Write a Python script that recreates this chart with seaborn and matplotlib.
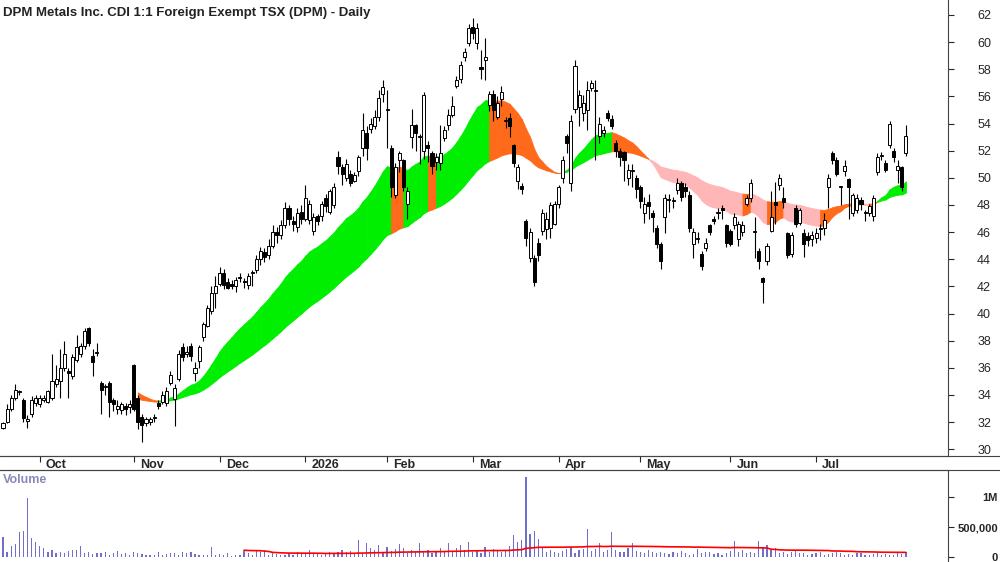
import numpy as np
import pandas as pd
import matplotlib
matplotlib.use("Agg")
import matplotlib.pyplot as plt
import seaborn as sns

sns.set_style("white")
plt.rcParams["font.family"] = ["Liberation Sans", "DejaVu Sans"]

TITLE = "DPM Metals Inc. CDI 1:1 Foreign Exempt TSX (DPM) - Daily"

opens = [
    31.6, 32.0, 33.0, 33.8, 34.2, 33.6, 32.1, 32.6, 33.4, 33.3,
    33.6, 33.5, 33.8, 34.8, 35.0, 36.0, 35.8, 35.4, 36.6, 37.0,
    37.6, 38.9, 36.9, 37.1, 34.9, 34.6, 34.9, 33.6, 33.0, 32.9,
    33.2, 33.1, 36.2, 33.8, 32.4, 31.9, 32.0, 32.3, 33.4, 33.5,
    33.4, 34.9, 33.7, 35.2, 37.5, 37.0, 37.6, 35.6, 36.5, 38.3,
    39.1, 40.2, 41.5, 42.2, 43.0, 42.3, 42.2, 42.0, 42.6, 42.4,
    42.1, 43.0, 43.2, 44.0, 44.5, 44.3, 45.0, 46.0, 45.8, 46.5,
    47.8, 46.8, 46.4, 47.5, 47.0, 46.9, 46.1, 47.2, 47.2, 48.5,
    47.5, 48.0, 51.5, 50.8, 50.0, 50.3, 49.8, 50.5, 52.2, 53.3,
    53.6, 53.8, 54.5, 56.2, 55.0, 52.2, 48.7, 51.3, 51.3, 48.1,
    53.0, 53.9, 53.0, 52.0, 52.4, 51.8, 51.2, 51.1, 52.9, 53.9,
    54.6, 56.8, 57.3, 58.9, 59.9, 61.1, 59.9, 58.2, 58.7, 55.4,
    56.2, 54.5, 55.8, 54.2, 54.4, 52.4, 49.8, 49.4, 46.8, 44.1,
    44.1, 45.2, 46.1, 46.2, 46.3, 46.6, 48.1, 50.0, 53.1, 49.6,
    55.1, 55.2, 54.8, 55.0, 56.6, 56.4, 53.1, 53.3, 54.8, 54.3,
    52.6, 52.0, 51.9, 50.0, 50.5, 50.0, 49.3, 47.4, 48.2, 47.4,
    46.3, 45.1, 47.1, 48.4, 48.3, 49.1, 49.6, 49.3, 48.7, 45.1,
    45.5, 44.4, 44.8, 46.5, 47.0, 47.4, 47.8, 46.5, 46.1, 46.5,
    45.5, 46.0, 48.1, 48.5, 46.0, 44.6, 42.6, 43.9, 46.1, 48.2,
    49.5, 48.5, 45.9, 44.4, 47.8, 46.7, 45.9, 45.7, 45.5, 45.6,
    46.3, 46.3, 49.3, 51.8, 51.3, 49.3, 50.5, 49.9, 47.4, 47.6,
    48.4, 47.4, 47.4, 47.2, 50.4, 51.6, 51.1, 52.4, 52.0, 50.6,
    50.8, 51.8,
]
closes = [
    31.9, 33.0, 33.8, 34.4, 34.3, 32.3, 32.2, 33.6, 33.8, 33.8,
    33.8, 34.3, 35.0, 35.2, 36.0, 37.0, 35.6, 36.8, 37.5, 37.6,
    38.7, 37.8, 36.4, 37.1, 34.4, 34.6, 33.5, 33.3, 33.2, 33.3,
    33.0, 33.3, 33.0, 32.0, 31.8, 32.2, 32.2, 32.4, 33.2, 34.0,
    34.3, 35.5, 34.5, 37.0, 36.8, 37.2, 36.9, 36.0, 37.5, 39.2,
    40.4, 41.5, 42.0, 43.0, 42.1, 41.9, 42.0, 42.5, 42.7, 42.3,
    42.8, 43.0, 44.0, 44.6, 44.2, 45.0, 46.0, 45.8, 46.5, 47.8,
    47.0, 46.6, 47.4, 47.0, 48.5, 48.1, 47.1, 46.8, 48.1, 47.9,
    49.0, 49.3, 50.9, 50.3, 51.0, 49.6, 50.2, 51.5, 53.5, 52.2,
    54.0, 54.5, 55.9, 56.7, 55.0, 49.3, 50.8, 51.8, 49.3, 49.0,
    53.9, 53.3, 53.1, 56.1, 52.2, 50.9, 51.5, 51.8, 53.5, 54.6,
    55.3, 57.2, 58.3, 59.3, 61.0, 60.7, 61.0, 58.0, 58.9, 56.2,
    55.0, 55.5, 56.3, 54.2, 53.8, 51.1, 50.8, 49.2, 45.6, 46.0,
    42.3, 44.3, 47.4, 47.0, 48.0, 48.1, 49.3, 51.3, 52.6, 54.2,
    58.2, 56.1, 55.5, 56.5, 57.0, 56.5, 54.0, 53.5, 54.4, 53.8,
    52.0, 51.5, 51.3, 50.6, 50.6, 49.2, 48.3, 48.1, 47.9, 47.1,
    45.1, 43.9, 48.5, 48.4, 48.3, 49.6, 48.6, 49.0, 46.3, 46.0,
    45.6, 43.5, 45.2, 46.0, 46.8, 47.4, 47.6, 45.2, 45.1, 47.1,
    46.6, 46.5, 48.5, 49.6, 46.0, 43.9, 42.3, 45.0, 47.1, 48.0,
    50.0, 48.2, 44.3, 45.8, 46.6, 47.6, 45.1, 45.4, 45.8, 45.9,
    46.2, 46.9, 50.0, 51.3, 50.3, 49.3, 50.9, 49.3, 48.7, 48.5,
    48.1, 47.4, 47.9, 48.5, 51.5, 51.6, 50.6, 54.0, 51.5, 50.9,
    49.3, 53.1,
]
highs = [
    32.0, 33.3, 34.0, 34.8, 34.4, 33.8, 32.5, 33.9, 34.0, 34.0,
    34.0, 34.4, 37.0, 36.2, 37.4, 38.0, 36.0, 37.0, 38.4, 37.8,
    38.9, 39.0, 37.4, 37.8, 35.0, 34.8, 35.0, 33.8, 33.6, 33.5,
    33.4, 33.6, 36.3, 34.0, 32.6, 32.4, 32.4, 32.6, 33.6, 34.3,
    34.6, 35.8, 34.8, 37.3, 37.8, 37.6, 37.8, 36.4, 37.7, 39.4,
    40.6, 42.0, 42.8, 43.4, 43.3, 42.6, 42.5, 42.7, 43.0, 42.6,
    43.0, 43.2, 44.3, 44.9, 44.8, 45.5, 46.5, 46.4, 46.9, 48.2,
    48.0, 47.2, 47.8, 48.0, 49.5, 48.4, 47.4, 47.3, 48.3, 48.8,
    49.2, 49.6, 52.0, 51.0, 51.4, 50.6, 50.4, 51.7, 54.8, 53.8,
    54.4, 55.0, 56.5, 57.2, 56.5, 52.4, 51.1, 52.0, 51.4, 49.3,
    55.1, 54.0, 53.2, 56.3, 52.7, 52.0, 51.8, 53.9, 53.8, 55.1,
    56.0, 57.5, 58.6, 59.6, 61.3, 61.8, 61.4, 59.4, 60.3, 56.4,
    56.5, 56.0, 56.8, 54.5, 54.8, 52.5, 51.0, 49.6, 47.0, 46.3,
    44.3, 45.6, 47.7, 47.5, 48.2, 48.3, 49.5, 51.6, 53.2, 54.6,
    58.7, 56.5, 56.1, 57.1, 57.2, 57.2, 54.5, 53.8, 55.0, 54.6,
    52.8, 52.2, 52.0, 51.0, 51.0, 50.2, 49.5, 48.6, 48.8, 47.6,
    46.5, 45.3, 48.8, 48.8, 48.6, 50.0, 49.8, 49.6, 49.0, 46.3,
    46.0, 44.6, 45.6, 46.6, 47.2, 47.8, 48.0, 46.6, 46.2, 47.4,
    46.8, 46.8, 48.7, 49.9, 47.1, 44.8, 42.7, 45.2, 49.0, 49.7,
    50.3, 49.3, 46.0, 46.0, 48.0, 47.8, 46.2, 46.0, 46.1, 46.3,
    46.6, 47.4, 50.3, 52.0, 51.5, 49.4, 51.3, 50.0, 48.9, 48.8,
    48.6, 47.6, 48.1, 48.7, 51.8, 51.9, 51.3, 54.2, 52.2, 51.3,
    50.9, 53.9,
]
lows = [
    31.5, 31.9, 32.8, 33.6, 34.0, 32.0, 31.6, 32.4, 33.2, 33.1,
    33.5, 33.4, 33.6, 34.6, 33.8, 35.8, 33.8, 35.2, 36.4, 36.8,
    37.4, 37.6, 35.4, 36.9, 32.6, 34.0, 32.4, 32.8, 32.6, 32.6,
    32.5, 32.7, 32.8, 31.5, 30.5, 31.7, 31.8, 32.0, 33.0, 33.3,
    33.2, 34.7, 31.7, 35.0, 36.5, 36.8, 36.5, 35.0, 36.0, 38.0,
    39.0, 40.0, 40.4, 42.0, 41.8, 41.8, 41.8, 41.6, 42.3, 41.9,
    41.8, 42.0, 43.0, 43.6, 43.8, 44.0, 44.8, 45.2, 45.5, 46.3,
    46.5, 46.1, 46.0, 46.6, 46.8, 46.6, 45.8, 46.5, 46.8, 47.5,
    47.3, 47.8, 50.3, 49.5, 49.8, 49.4, 49.7, 50.1, 51.6, 51.3,
    53.3, 53.6, 54.2, 55.6, 52.2, 48.6, 48.5, 50.4, 49.0, 47.0,
    52.2, 52.0, 51.0, 51.4, 51.2, 50.3, 50.6, 50.6, 52.7, 53.5,
    54.5, 56.6, 57.0, 58.6, 59.7, 60.2, 59.5, 57.3, 57.2, 54.9,
    54.2, 54.3, 55.3, 53.7, 53.0, 50.8, 49.2, 48.8, 45.0, 43.8,
    42.0, 43.9, 45.8, 45.5, 45.6, 46.5, 47.8, 49.6, 51.8, 49.0,
    54.8, 53.8, 54.2, 53.5, 56.4, 51.3, 52.6, 53.0, 54.2, 53.6,
    51.5, 50.9, 49.8, 49.5, 49.3, 48.5, 47.8, 46.7, 47.0, 46.0,
    44.8, 43.3, 45.9, 47.5, 47.8, 48.8, 48.3, 48.6, 46.0, 44.1,
    45.2, 43.2, 44.6, 45.8, 46.6, 47.0, 47.0, 44.9, 45.0, 46.2,
    45.0, 45.7, 47.9, 48.2, 44.1, 43.3, 40.8, 43.6, 46.0, 46.6,
    49.1, 47.8, 44.1, 44.2, 46.4, 46.5, 44.2, 45.0, 45.0, 45.2,
    45.4, 45.8, 47.8, 51.0, 50.1, 48.0, 50.1, 47.0, 47.2, 47.4,
    47.6, 46.8, 47.2, 46.8, 50.2, 51.3, 50.4, 52.2, 51.2, 49.6,
    49.0, 51.6,
]
# volume in thousands of shares
volume_k = [
    330, 90, 180, 220, 420, 430, 980, 310, 250, 190,
    150, 90, 110, 60, 80, 70, 100, 110, 120, 190, 60, 90, 50, 70, 60, 80, 40, 60, 100, 50,
    70, 40, 90, 60, 50, 30, 40, 30, 80, 40, 50, 70, 60, 30, 80, 60, 90, 50, 30, 40,
    30, 170, 40, 50, 30, 60, 20, 30, 40, 100, 60, 40, 120, 80, 110, 30, 60, 50, 40, 30, 60, 40, 90, 70, 50,
    110, 60, 70, 40, 50, 80, 60, 90, 120, 80, 100, 70, 280, 60, 230, 150, 120, 200, 90, 160, 100, 130, 220, 150, 60,
    110, 90, 240, 80, 120, 60, 100, 150, 80, 240, 90, 150, 200, 110, 250, 90, 120, 60, 160, 90,
    140, 100, 80, 120, 190, 370, 250, 290, 1330, 380, 440, 300,
    150, 90, 120, 80, 60, 100, 140, 170, 60, 120, 140, 470, 100, 130, 240, 80, 120, 420, 110, 90,
    80, 150, 230, 100, 90, 70, 120, 80, 60,
    90, 60, 50, 80, 70, 100, 60, 40, 50, 130, 60, 80, 90, 50, 70, 40, 60, 100, 270, 80,
    120, 60, 90, 70, 270, 160, 200, 120, 150, 60, 90, 50, 80, 110, 60, 70, 40, 50, 60, 80,
    40, 50, 70, 90, 60, 30, 50, 40, 70, 60, 40, 30, 50, 60, 40, 50, 30, 40, 60, 50, 80,
]
month_labels = ["Oct", "Nov", "Dec", "2026", "Feb", "Mar", "Apr", "May", "Jun", "Jul"]
month_start = [9, 32, 53, 74, 94, 115, 136, 156, 178, 199]
price_ticks = list(range(30, 63, 2))

df = pd.DataFrame({"open": opens, "high": highs, "low": lows, "close": closes,
                   "volume": np.array(volume_k) * 1000.0})
df["idx"] = np.arange(len(df))
df["fast"] = df["close"].ewm(span=24, adjust=False).mean()
df["slow"] = df["close"].ewm(span=60, adjust=False).mean()
df["vol_avg"] = df["volume"].rolling(60).mean()

fig = plt.figure(figsize=(10, 5.62), dpi=100)
ax = fig.add_axes([0, 1 - 456 / 562, 0.948, 456 / 562])
axv = fig.add_axes([0, 0, 0.948, 92 / 562])

x0, x1 = -0.73, 231.3

# moving average ribbon: colour by direction of the fast average and its side of the slow one
BAND_START = 33
fast = df["fast"].to_numpy()
slow = df["slow"].to_numpy()
for i in range(BAND_START, len(df) - 1):
    j = min(i + 2, len(df) - 1)
    up = fast[j] >= fast[max(i - 1, 0)]
    above = fast[i] >= slow[i]
    if up and above:
        col = "#00ee00"
    elif not up and not above:
        col = "#ffb6b6"
    else:
        col = "#ff6a1a"
    seg = df.iloc[i:i + 2]
    ax.fill_between(seg["idx"], seg["fast"], seg["slow"], facecolor=col,
                    edgecolor=col, lw=0.6, zorder=1)

# candles
ax.vlines(df["idx"], df["low"], df["high"], color="black", lw=0.8, zorder=2)
body_lo = df[["open", "close"]].min(axis=1)
body_h = (df["close"] - df["open"]).abs().clip(lower=0.06)
face = np.where(df["close"] >= df["open"], "white", "black")
ax.bar(df["idx"], body_h, bottom=body_lo, width=0.75, color=face,
       edgecolor="black", linewidth=0.7, zorder=3)

ax.set_xlim(x0, x1)
ax.set_ylim(29.5, 63.1)
ax.yaxis.tick_right()
ax.set_yticks(price_ticks)
ax.set_yticklabels([str(t) for t in price_ticks])
ax.tick_params(axis="y", right=True, length=4, pad=22, labelsize=9, direction="out")
for lbl in ax.get_yticklabels():
    lbl.set_horizontalalignment("center")
ax.set_xticks(month_start)
ax.set_xticklabels([])
ax.tick_params(axis="x", bottom=True, length=4, direction="out")
for m, lbl in zip(month_start, month_labels):
    ax.text(m + 1.5, -0.006, lbl, transform=ax.get_xaxis_transform(), ha="left", va="top",
            fontsize=9, fontweight="bold")
for s in ["top", "left"]:
    ax.spines[s].set_visible(False)
for s in ["right", "bottom"]:
    ax.spines[s].set_color("#444444")
    ax.spines[s].set_linewidth(0.8)
ax.text(0.003, 0.985, TITLE, transform=ax.transAxes, ha="left", va="top",
        fontsize=9.5, fontweight="bold", color="#222222")

# volume
axv.bar(df["idx"], df["volume"], width=0.3, color="#7070cc", lw=0)
sns.lineplot(x=df["idx"], y=df["vol_avg"], ax=axv, color="red", lw=1.2)
axv.set_xlim(x0, x1)
axv.set_ylim(-83000, 1450000)
axv.set_xticks([])
axv.set_xlabel("")
axv.set_ylabel("")
axv.yaxis.tick_right()
axv.set_yticks([0, 500000, 1000000])
axv.set_yticklabels(["0", "500,000", "1M"])
axv.tick_params(axis="y", right=True, length=4, pad=32, labelsize=8, direction="out")
for lbl in axv.get_yticklabels():
    lbl.set_horizontalalignment("right")
    lbl.set_fontweight("bold")
for s in ["bottom", "left"]:
    axv.spines[s].set_visible(False)
for s in ["top", "right"]:
    axv.spines[s].set_color("#444444")
    axv.spines[s].set_linewidth(0.8)
axv.text(0.003, 0.96, "Volume", transform=axv.transAxes, ha="left", va="top",
         fontsize=9, fontweight="bold", color="#8888bb")

# separator lines spanning the full width
fig.add_artist(plt.Line2D([0, 1], [1 - 456 / 562] * 2, color="#444444", lw=0.8))
fig.add_artist(plt.Line2D([0, 1], [92 / 562] * 2, color="#444444", lw=0.8))

fig.savefig("out.png", dpi=100)
